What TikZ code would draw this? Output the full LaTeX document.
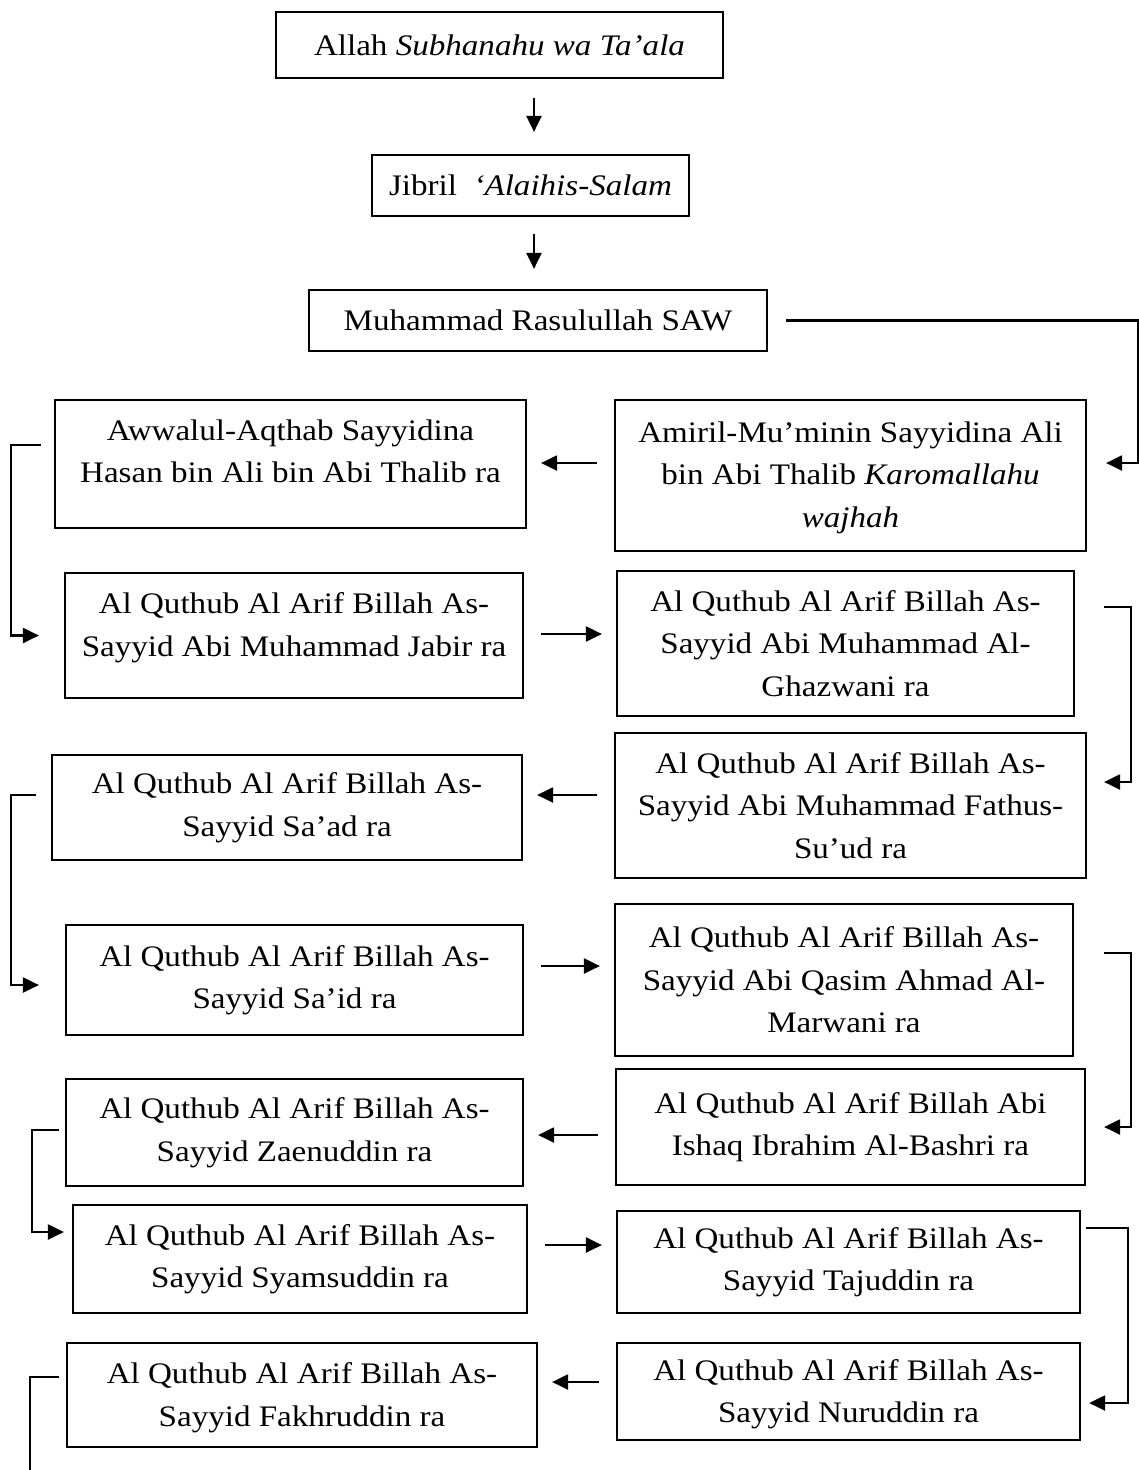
\documentclass[tikz,border=0pt]{standalone}
\usepackage{fontspec}
\setmainfont{Liberation Serif}[FakeStretch=1.11]
\usetikzlibrary{arrows.meta}

\tikzset{
    box/.style={draw, line width=2.2pt, rectangle, align=center, inner sep=0pt,
        font=\fontsize{29.8}{42.5}\selectfont},
    arr/.style={line width=2.2pt, -{Triangle[length=16pt,width=15pt]},
        shorten <=17pt, shorten >=14pt},
    elbow/.style={line width=2.2pt, -{Triangle[length=16pt,width=15pt]}},
}

\begin{document}
\begin{tikzpicture}[x=1pt, y=-1pt]
    \useasboundingbox (0,0) rectangle (1139,1470);

    \node[box, minimum width=447pt, minimum height=66pt] (allah) at (499.5,45)
        {Allah \textit{Subhanahu wa Ta’ala}};
    \node[box, minimum width=317pt, minimum height=61pt] (jibril) at (530.5,185.5)
        {Jibril \ \textit{‘Alaihis-Salam}};
    \node[box, minimum width=458pt, minimum height=61pt] (muhammad) at (538,320.5)
        {Muhammad Rasulullah SAW};

    \node[box, minimum width=471pt, minimum height=151pt, text depth=2pt] (ali) at (850.5,475.5)
        {Amiril-Mu’minin Sayyidina Ali\\bin Abi Thalib \textit{Karomallahu}\\\textit{wajhah}};
    \node[box, minimum width=471pt, minimum height=128pt, text depth=26pt] (hasan) at (290.5,464)
        {Awwalul-Aqthab Sayyidina\\Hasan bin Ali bin Abi Thalib ra};
    \node[box, minimum width=458pt, minimum height=125pt, text depth=22pt] (jabir) at (294,635.5)
        {Al Quthub Al Arif Billah As-\\Sayyid Abi Muhammad Jabir ra};
    \node[box, minimum width=457pt, minimum height=145pt] (ghazwani) at (845.5,643.5)
        {Al Quthub Al Arif Billah As-\\Sayyid Abi Muhammad Al-\\Ghazwani ra};
    \node[box, minimum width=471pt, minimum height=145pt] (fathus) at (850.5,805.5)
        {Al Quthub Al Arif Billah As-\\Sayyid Abi Muhammad Fathus-\\Su’ud ra};
    \node[box, minimum width=470pt, minimum height=105pt] (saad) at (287,807.5)
        {Al Quthub Al Arif Billah As-\\Sayyid Sa’ad ra};
    \node[box, minimum width=457pt, minimum height=110pt] (said) at (294.5,980)
        {Al Quthub Al Arif Billah As-\\Sayyid Sa’id ra};
    \node[box, minimum width=458pt, minimum height=152pt] (marwani) at (844,980)
        {Al Quthub Al Arif Billah As-\\Sayyid Abi Qasim Ahmad Al-\\Marwani ra};
    \node[box, minimum width=469pt, minimum height=116pt] (bashri) at (850.5,1127)
        {Al Quthub Al Arif Billah Abi\\Ishaq Ibrahim Al-Bashri ra};
    \node[box, minimum width=457pt, minimum height=107pt] (zaenuddin) at (294.5,1132.5)
        {Al Quthub Al Arif Billah As-\\Sayyid Zaenuddin ra};
    \node[box, minimum width=454pt, minimum height=108pt] (syamsuddin) at (300,1259)
        {Al Quthub Al Arif Billah As-\\Sayyid Syamsuddin ra};
    \node[box, minimum width=463pt, minimum height=102pt] (tajuddin) at (848.5,1262)
        {Al Quthub Al Arif Billah As-\\Sayyid Tajuddin ra};
    \node[box, minimum width=463pt, minimum height=97pt, text depth=1pt] (nuruddin) at (848.5,1391.5)
        {Al Quthub Al Arif Billah As-\\Sayyid Nuruddin ra};
    \node[box, minimum width=470pt, minimum height=104pt, text depth=1pt] (fakhruddin) at (302,1395)
        {Al Quthub Al Arif Billah As-\\Sayyid Fakhruddin ra};
    \coordinate (offpage) at (30,1470);

    \draw[arr, shorten <=19pt, shorten >=22pt] ([xshift=34.5pt]allah.south) -- ([xshift=3.5pt]jibril.north);
    \draw[arr, shorten <=17pt, shorten >=20pt] ([xshift=3.5pt]jibril.south) -- ([xshift=-4pt]muhammad.north);
    \draw[elbow] ([xshift=18pt]muhammad.east) -| ([xshift=51pt,yshift=12.5pt]ali.east) -- ([xshift=19pt,yshift=12.5pt]ali.east);

    \draw[arr] ([yshift=12.5pt]ali.west) -- ([yshift=1pt]hasan.east);
    \draw[elbow] ([xshift=-13pt,yshift=19pt]hasan.west) -- ++(-30,0) |- ([xshift=-25pt]jabir.west);
    \draw[arr] ([yshift=1.5pt]jabir.east) -- ([yshift=9.5pt]ghazwani.west);
    \draw[elbow] ([xshift=29pt,yshift=36.5pt]ghazwani.east) -- ++(27,0) |- ([xshift=17pt,yshift=23.5pt]fathus.east);
    \draw[arr] ([yshift=10.5pt]fathus.west) -- ([yshift=12.5pt]saad.east);
    \draw[elbow] ([xshift=-15pt,yshift=12.5pt]saad.west) -- ++(-25,0) |- ([xshift=-26pt,yshift=-5pt]said.west);
    \draw[arr] ([yshift=14pt]said.east) -- ([yshift=14pt]marwani.west);
    \draw[elbow] ([xshift=30pt,yshift=27pt]marwani.east) -- ++(27,0) |- ([xshift=18pt]bashri.east);
    \draw[arr] ([yshift=-8pt]bashri.west) -- ([yshift=-2.5pt]zaenuddin.east);
    \draw[elbow] ([xshift=-6pt,yshift=2.5pt]zaenuddin.west) -- ++(-27,0) |- ([xshift=-8pt,yshift=27pt]syamsuddin.west);
    \draw[arr] ([yshift=14pt]syamsuddin.east) -- ([yshift=17pt]tajuddin.west);
    \draw[elbow] ([xshift=5pt,yshift=34pt]tajuddin.east) -- ++(42,0) |- ([xshift=8pt,yshift=-11.5pt]nuruddin.east);
    \draw[arr] ([yshift=9.5pt]nuruddin.west) -- ([yshift=13pt]fakhruddin.east);
    \draw[line width=2.2pt] ([xshift=-7pt,yshift=18pt]fakhruddin.west) -| (offpage);
\end{tikzpicture}
\end{document}
